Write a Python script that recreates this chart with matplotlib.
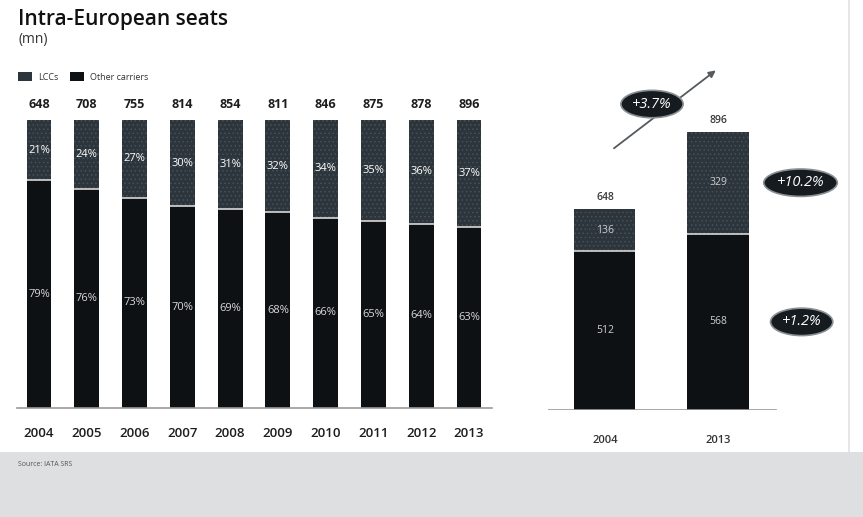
import matplotlib.pyplot as plt
from matplotlib.patches import Rectangle

# --- data ---
YEARS = ['2004', '2005', '2006', '2007', '2008', '2009', '2010', '2011', '2012', '2013']
TOTAL_SEATS = [648, 708, 755, 814, 854, 811, 846, 875, 878, 896]
LCC_SHARE = [21, 24, 27, 30, 31, 32, 34, 35, 36, 37]
OTHER_SHARE = [79, 76, 73, 70, 69, 68, 66, 65, 64, 63]

CMP_YEARS = ['2004', '2013']
CMP_LCC = [136, 329]
CMP_OTHER = [512, 568]
CMP_TOTAL = [648, 896]
GROWTH_TOTAL = '+3.7%'
GROWTH_LCC = '+10.2%'
GROWTH_OTHER = '+1.2%'

# --- style ---
W, H, DPI = 863, 517, 100
LCC_COLOR = '#2c353b'
OTHER_COLOR = '#0e1114'
HATCH_COLOR = '#465157'
TEXT_DARK = '#1d1d1d'
plt.rcParams['font.family'] = ['Open Sans', 'DejaVu Sans']
plt.rcParams['hatch.linewidth'] = 0.6


def px_axes(fig, x0, y0, x1, y1):
    """axes from pixel box (top-left origin)"""
    return fig.add_axes([x0 / W, 1 - y1 / H, (x1 - x0) / W, (y1 - y0) / H])


def badge(ax, x, y, text):
    ax.text(x, y, text, ha='center', va='center', color='white', fontsize=10.5,
            style='italic', clip_on=False, zorder=5,
            bbox=dict(boxstyle='ellipse,pad=0.15', fc='#161b20', ec='#8a8f93', lw=1.2))


fig = plt.figure(figsize=(W / DPI, H / DPI), dpi=DPI)
fig.patch.set_facecolor('white')

# bottom grey strip + thin frame lines of the scanned page
fig.patches.append(Rectangle((0, 0), 1, 1 - 452 / H, transform=fig.transFigure,
                             fc='#dedfe0', ec='none', zorder=0))
fig.patches.append(Rectangle((848 / W, 1 - 452 / H), 2 / W, 452 / H, transform=fig.transFigure,
                             fc='#e6e6e6', ec='none', zorder=0))

# --- left: share chart ---
ax = px_axes(fig, 17, 120, 492, 408)
x = list(range(len(YEARS)))
bw = 0.52
ax.bar(x, OTHER_SHARE, width=bw, color=OTHER_COLOR, linewidth=0)
ax.bar(x, LCC_SHARE, bottom=OTHER_SHARE, width=bw, color=LCC_COLOR,
       hatch='....', edgecolor=HATCH_COLOR, linewidth=0)
ax.hlines(OTHER_SHARE, [i - bw / 2 for i in x], [i + bw / 2 for i in x],
          colors='#d8d8d8', linewidth=1.2)
ax.set_xlim(-0.46, 9.48)
ax.set_ylim(0, 100)
for i in x:
    ax.text(i, OTHER_SHARE[i] + LCC_SHARE[i] / 2, f'{LCC_SHARE[i]}%', ha='center',
            va='center', color='white', fontsize=8)
    ax.text(i, OTHER_SHARE[i] / 2, f'{OTHER_SHARE[i]}%', ha='center', va='center',
            color='#d8d8d8', fontsize=8)
    ax.text(i, 103, str(TOTAL_SEATS[i]), ha='center', va='bottom', color=TEXT_DARK,
            fontsize=9, fontweight='bold', clip_on=False)
ax.set_xticks(x)
ax.set_xticklabels(YEARS, fontsize=9.5, color=TEXT_DARK, fontweight='semibold')
ax.tick_params(axis='x', length=0, pad=14)
ax.set_yticks([])
for s in ['top', 'right', 'left']:
    ax.spines[s].set_visible(False)
ax.spines['bottom'].set_color('#9a9a9a')
ax.spines['bottom'].set_linewidth(1.2)
ax.patch.set_alpha(0)

# --- right: 2004 vs 2013 ---
ax2 = px_axes(fig, 548, 60, 848, 410)
xc = [0, 1]
bw2 = 0.54
ax2.bar(xc, CMP_OTHER, width=bw2, color=OTHER_COLOR, linewidth=0)
ax2.bar(xc, CMP_LCC, bottom=CMP_OTHER, width=bw2, color=LCC_COLOR,
        hatch='....', edgecolor=HATCH_COLOR, linewidth=0)
ax2.hlines(CMP_OTHER, [i - bw2 / 2 for i in xc], [i + bw2 / 2 for i in xc],
           colors='#d8d8d8', linewidth=1.2)
ax2.set_xlim(-0.504, 2.15)
ax2.set_ylim(0, 1128)
for i in xc:
    ax2.text(i, CMP_OTHER[i] + CMP_LCC[i] / 2, str(CMP_LCC[i]), ha='center', va='center',
             color='#cfcfcf', fontsize=7.5)
    ax2.text(i, CMP_OTHER[i] / 2, str(CMP_OTHER[i]), ha='center', va='center',
             color='#cfcfcf', fontsize=7.5)
    ax2.text(i, CMP_TOTAL[i] + 18, str(CMP_TOTAL[i]), ha='center', va='bottom',
             color='#3a3a3a', fontsize=7.5, fontweight='semibold')
ax2.set_xticks(xc)
ax2.set_xticklabels(CMP_YEARS, fontsize=8, color='#333333', fontweight='semibold')
ax2.tick_params(axis='x', length=0, pad=18)
ax2.set_yticks([])
for s in ax2.spines.values():
    s.set_visible(False)
ax2.axhline(0, xmin=0, xmax=228 / 300, color='#9a9a9a', linewidth=1.2)
ax2.patch.set_alpha(0)

# growth arrow + badges
ax2.annotate('', xy=(1.0, 1100), xytext=(0.06, 838),
             arrowprops=dict(arrowstyle='-|>', color='#555a5e', lw=1.3,
                             mutation_scale=10), annotation_clip=False)
badge(ax2, 0.416, 986, GROWTH_TOTAL)
badge(ax2, 1.73, CMP_OTHER[1] + CMP_LCC[1] / 2, GROWTH_LCC)
badge(ax2, 1.74, CMP_OTHER[1] / 2, GROWTH_OTHER)

# --- titles, legend, source ---
fig.text(18 / W, 1 - 20 / H, 'Intra-European seats', fontsize=15, fontweight='semibold',
         color='#111111', va='center', ha='left')
fig.text(18 / W, 1 - 40 / H, '(mn)', fontsize=10, color='#333333', va='center', ha='left')

fig.patches.append(Rectangle((18 / W, 1 - 81 / H), 14 / W, 9 / H, transform=fig.transFigure,
                             fc=LCC_COLOR, ec='none'))
fig.text(38 / W, 1 - 77 / H, 'LCCs', fontsize=6.5, color='#333333', va='center')
fig.patches.append(Rectangle((70 / W, 1 - 81 / H), 14 / W, 9 / H, transform=fig.transFigure,
                             fc=OTHER_COLOR, ec='none'))
fig.text(90 / W, 1 - 77 / H, 'Other carriers', fontsize=6.5, color='#333333', va='center')

fig.text(18 / W, 1 - 465 / H, 'Source: IATA SRS', fontsize=5, color='#555555', va='center')

fig.savefig('out.png', dpi=DPI)
